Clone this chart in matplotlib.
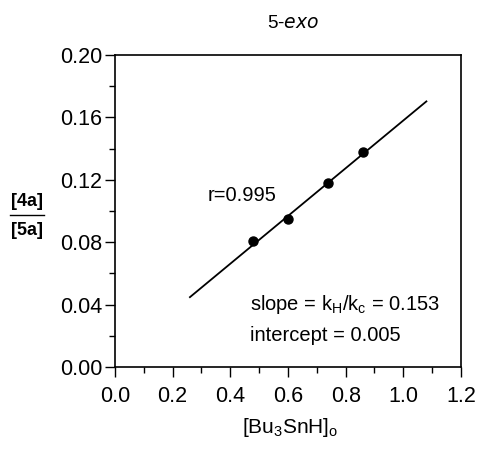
import numpy as np
import matplotlib.pyplot as plt
from matplotlib.ticker import MultipleLocator

# --- DATA ---
conc = [0.48, 0.60, 0.74, 0.86]          # [Bu3SnH]o
ratio = [0.081, 0.095, 0.118, 0.138]     # [4a]/[5a]
slope = 0.153
intercept = 0.005
fit_range = [0.26, 1.08]

plt.rcParams['font.family'] = ['Liberation Sans', 'DejaVu Sans']

fig = plt.figure(figsize=(4.79, 4.49), dpi=100)
ax = fig.add_axes([0.240, 0.1826, 0.7224, 0.695])

xf = np.array(fit_range)
ax.plot(xf, slope * xf + intercept, color='black', lw=1.3)
ax.plot(conc, ratio, 'o', color='black', ms=6.5)

ax.set_xlim(0, 1.2)
ax.set_ylim(0, 0.20)
ax.xaxis.set_major_locator(MultipleLocator(0.2))
ax.xaxis.set_minor_locator(MultipleLocator(0.1))
ax.yaxis.set_major_locator(MultipleLocator(0.04))
ax.yaxis.set_minor_locator(MultipleLocator(0.02))
ax.xaxis.set_major_formatter(plt.FuncFormatter(lambda v, p: f"{v:.1f}"))
ax.yaxis.set_major_formatter(plt.FuncFormatter(lambda v, p: f"{v:.2f}"))
ax.tick_params(which='major', direction='out', length=7, width=1, labelsize=15.5)
ax.tick_params(axis='y', which='major', pad=2)
ax.tick_params(axis='x', which='major', pad=7)
ax.tick_params(which='minor', direction='out', length=4, width=1)
for s in ax.spines.values():
    s.set_linewidth(1.2)

# text annotations
fig.text(0.612, 0.948, "5-$\\it{exo}$", ha='center', va='center', fontsize=13.5)
ax.text(0.323, 0.110, "r=0.995", fontsize=14.5, ha='left', va='center')
ax.text(0.468, 0.040, "slope = k$_\\mathregular{H}$/k$_\\mathregular{c}$ = 0.153", fontsize=14.5, ha='left', va='center')
ax.text(0.468, 0.0205, "intercept = 0.005", fontsize=14.5, ha='left', va='center')

fig.text(0.605, 0.048, "[Bu$_\\mathregular{3}$SnH]$_\\mathregular{o}$", ha='center', va='center', fontsize=15)

# y label as a fraction
fig.text(0.056, 0.551, "[4a]", ha='center', va='center', fontsize=13, fontweight='bold')
fig.text(0.056, 0.486, "[5a]", ha='center', va='center', fontsize=13, fontweight='bold')
fig.add_artist(plt.Line2D([0.021, 0.092], [0.522, 0.522], color='black', lw=1))

fig.savefig("out.png", dpi=100, facecolor='white')
